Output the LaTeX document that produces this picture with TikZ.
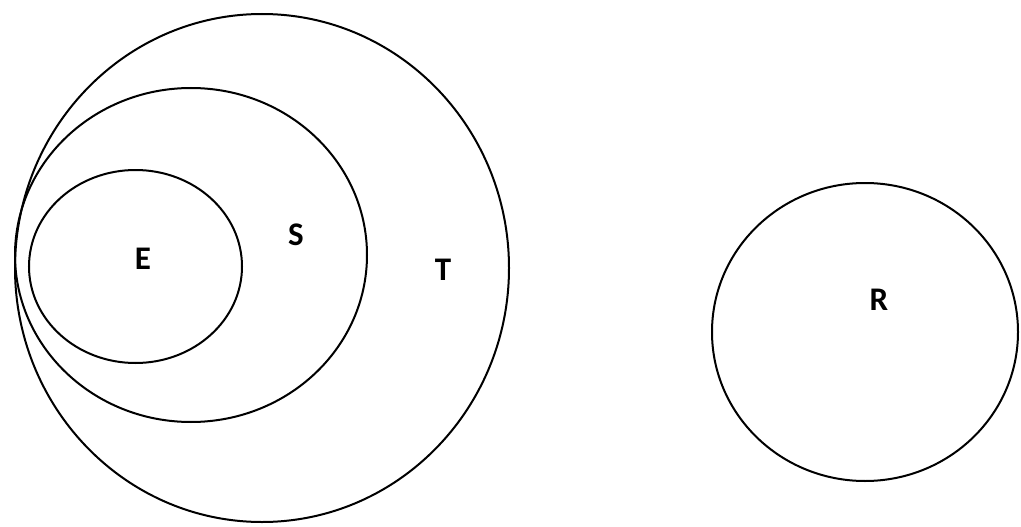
\documentclass[tikz,border=0pt]{standalone}
\usepackage{fontspec}
\setmainfont{Carlito}
\usetikzlibrary{positioning, shapes.geometric}

\tikzset{
  setring/.style={draw=black, line width=2pt, ellipse, inner sep=0pt},
  setname/.style={font=\fontsize{33}{38}\selectfont\bfseries, inner sep=0pt}
}

\begin{document}
\begin{tikzpicture}[x=1pt, y=-1pt]
  \useasboundingbox (0,0) rectangle (1021,527);
  % nested sets
  \node[setring, minimum width=494pt, minimum height=508pt] (t) at (262,268) {};
  \node[setring, minimum width=352pt, minimum height=334pt] (s) at (191,255) {};
  \node[setring, minimum width=213pt, minimum height=193pt] (e) at (135.5,266.5) {};
  % separate set
  \node[setring, minimum width=306pt, minimum height=298pt] (r) at (865,332) {};

  \node[setname] (elbl) at (143,259) {E};
  \node[setname] (slbl) at (296,235) {S};
  \node[setname] (tlbl) at (443,270) {T};
  \node[setname] (rlbl) at (879,300) {R};
\end{tikzpicture}
\end{document}
